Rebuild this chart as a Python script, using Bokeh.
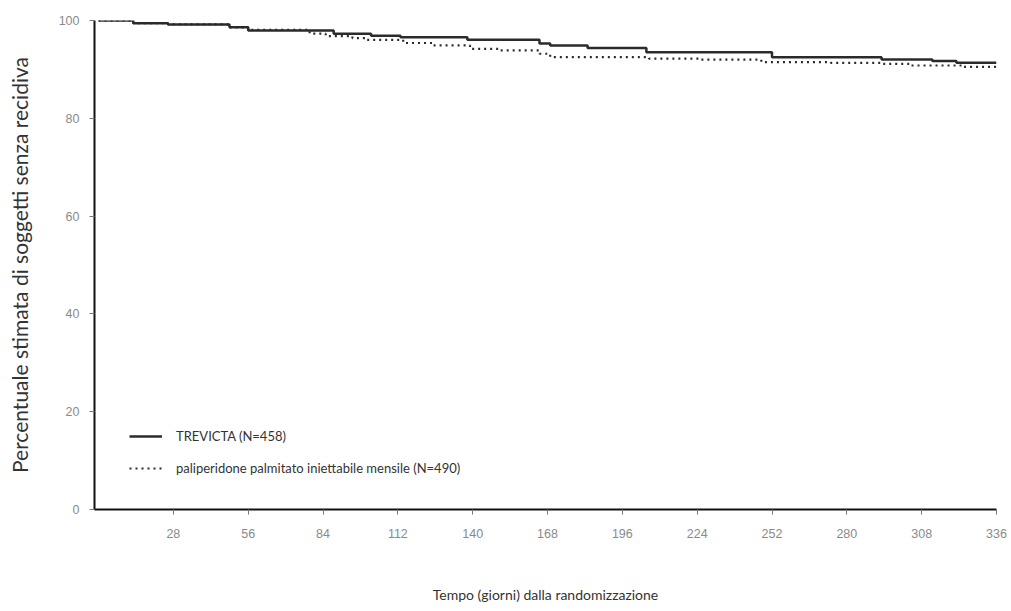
from bokeh.plotting import figure
from bokeh.models import Range1d, FixedTicker, Legend, LegendItem
from bokeh.embed import file_html
from bokeh.resources import INLINE

# Kaplan-Meier step data (days, percent relapse-free)
trevicta_days = [0, 13, 26, 49, 56, 88, 102, 113, 138, 165, 169, 183, 205, 252, 293, 312, 321, 336]
trevicta_pct = [100, 99.45, 99.2, 98.6, 97.95, 97.3, 96.9, 96.6, 96.05, 95.3, 94.9, 94.4, 93.5, 92.5, 92.0, 91.7, 91.35, 91.35]

pp1m_days = [0, 13, 26, 49, 56, 79, 85, 95, 100, 114, 125, 139, 150, 165, 169, 206, 225, 248, 274, 293, 304, 323, 336]
pp1m_pct = [100, 99.45, 99.2, 98.6, 98.1, 97.3, 96.8, 96.4, 96.05, 95.4, 94.9, 94.2, 93.9, 93.2, 92.5, 92.2, 92.0, 91.5, 91.35, 91.15, 90.8, 90.5, 90.3]

x_ticks = [28, 56, 84, 112, 140, 168, 196, 224, 252, 280, 308, 336]
y_ticks = [0, 20, 40, 60, 80, 100]

legend_labels = ["TREVICTA (N=458)", "paliperidone palmitato iniettabile mensile (N=490)"]
x_title = "Tempo (giorni) dalla randomizzazione"
y_title = "Percentuale stimata di soggetti senza recidiva"

p = figure(width=1008, height=605, output_backend="svg", toolbar_location=None,
           x_range=Range1d(-1.5, 336), y_range=Range1d(0, 100))
p.min_border_left = 94
p.min_border_right = 12
p.min_border_top = 20
p.min_border_bottom = 96
p.outline_line_color = None
p.grid.visible = False
p.background_fill_color = "white"
p.border_fill_color = "white"

r1 = p.step(trevicta_days, trevicta_pct, mode="after", line_color="#2b2b2b", line_width=2.5)
r2 = p.step(pp1m_days, pp1m_pct, mode="after", line_color="#2b2b2b", line_width=2.2, line_dash="2 4")

for ax in (p.xaxis[0], p.yaxis[0]):
    ax.axis_line_color = "#111111"
    ax.axis_line_width = 2
    ax.major_tick_line_color = "#777777"
    ax.major_tick_line_width = 1
    ax.major_tick_out = 5
    ax.major_tick_in = 0
    ax.minor_tick_line_color = None
    ax.major_label_text_font = "Liberation Sans"
    ax.major_label_text_font_size = "12.5px"
    ax.major_label_text_color = "#8a8a8a"
    ax.axis_label_text_font = "Lato"
    ax.axis_label_text_font_style = "normal"
    ax.axis_label_text_color = "#333333"

p.xaxis.ticker = FixedTicker(ticks=x_ticks)
p.yaxis.ticker = FixedTicker(ticks=y_ticks)
p.xaxis.axis_label = x_title
p.yaxis.axis_label = y_title
p.xaxis.axis_label_text_font_size = "14px"
p.yaxis.axis_label_text_font_size = "21px"
p.xaxis.major_label_standoff = 14
p.xaxis.axis_label_standoff = 45
p.yaxis.major_label_standoff = 10
p.yaxis.axis_label_standoff = 24

legend = Legend(items=[LegendItem(label=legend_labels[0], renderers=[r1]),
                       LegendItem(label=legend_labels[1], renderers=[r2])],
                location=(35, 31), orientation="vertical")
legend.background_fill_alpha = 0
legend.border_line_color = None
legend.padding = 0
legend.margin = 0
legend.spacing = 12
legend.glyph_width = 33
legend.glyph_height = 20
legend.label_height = 20
legend.label_standoff = 14
legend.label_text_font = "Lato"
legend.label_text_font_size = "13px"
legend.label_text_color = "#333333"
p.add_layout(legend)

open("out.html", "w").write(file_html(p, INLINE))
